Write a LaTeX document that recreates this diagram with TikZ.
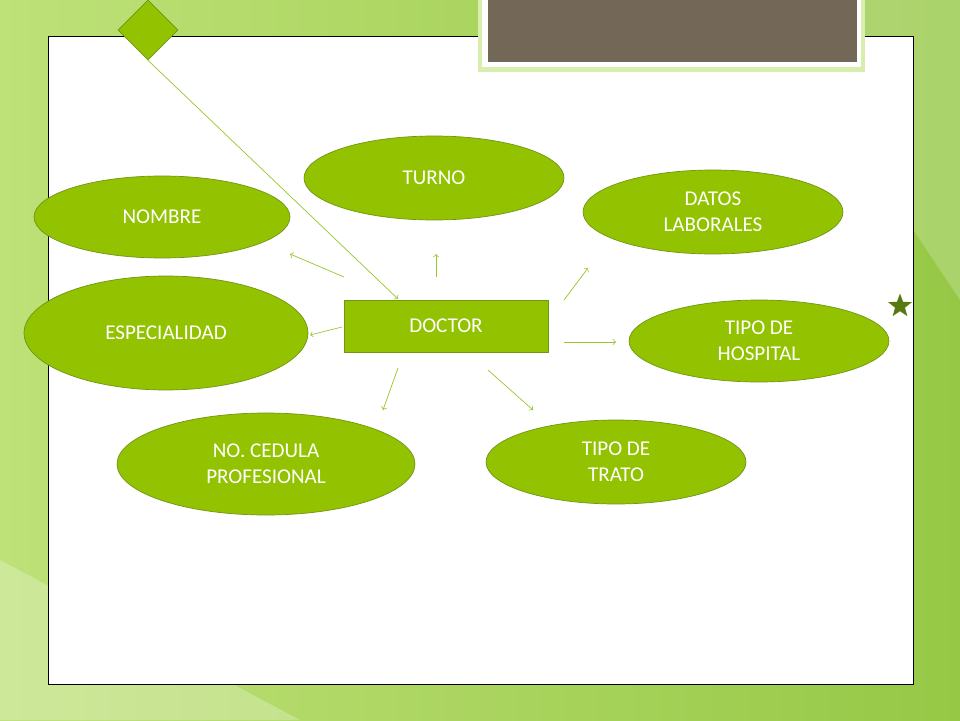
\documentclass[tikz,border=0pt]{standalone}
\usepackage{fontspec}
\setmainfont{Carlito}
\usetikzlibrary{shapes.geometric,shapes.misc}
\definecolor{bggreen}{RGB}{150,200,70}
\definecolor{bglight}{RGB}{190,225,120}
\definecolor{oval}{RGB}{146,194,0}
\definecolor{ovalline}{RGB}{112,150,20}
\definecolor{arr}{RGB}{150,200,40}
\definecolor{slate}{RGB}{115,103,88}
\tikzset{
  blob/.style={ellipse,fill=oval,draw=ovalline,thin,text=white,align=center,
    font=\fontsize{12}{15}\selectfont,inner sep=0pt},
  link/.style={draw=arr,->,thin}
}
\begin{document}
\begin{tikzpicture}[x=0.02cm,y=-0.02cm]
  \useasboundingbox (0,0) rectangle (960,720);
  % background
  \shade[left color=bglight,right color=bggreen] (0,0) rectangle (960,720);
  \fill[white,opacity=0.25] (0,720) -- (0,560) -- (300,720) -- cycle;
  \fill[white,opacity=0.2] (960,0) -- (960,300) -- (760,0) -- cycle;
  \fill[white] (48,36) rectangle (913,684);
  \draw[black,thin] (48,36) rectangle (913,684);
  % top box
  \fill[bglight!60!white] (478,0) rectangle (865,72);
  \fill[white] (482,0) rectangle (861,67);
  \fill[slate] (488,0) rectangle (857,62);
  % ovals
  \node[blob,minimum width=5.2cm,minimum height=1.68cm] (turno) at (434,178) {TURNO};
  \node[blob,minimum width=5.12cm,minimum height=1.64cm] (nombre) at (162,217) {NOMBRE};
  \node[blob,minimum width=5.2cm,minimum height=1.68cm] (datos) at (713,212) {DATOS\\LABORALES};
  \node[blob,minimum width=5.68cm,minimum height=2.28cm] (esp) at (166,333) {ESPECIALIDAD};
  \node[blob,minimum width=5.2cm,minimum height=1.64cm] (hosp) at (759,341) {TIPO DE\\HOSPITAL};
  \node[blob,minimum width=5.96cm,minimum height=2.04cm] (cedula) at (266,464) {NO. CEDULA\\PROFESIONAL};
  \node[blob,minimum width=5.2cm,minimum height=1.68cm] (trato) at (616,462) {TIPO DE\\TRATO};
  \node[rectangle,fill=oval,draw=ovalline,text=white,minimum width=4.08cm,minimum height=1.04cm,
    font=\fontsize{12}{15}\selectfont] (doctor) at (446,326) {DOCTOR};
  % diamond and star
  \node[diamond,fill=oval,draw=ovalline,minimum width=1.2cm,minimum height=1.2cm,inner sep=0pt] (rombo) at (148,30) {};
  \node[star,star points=5,star point ratio=2.4,fill=ovalline!80!black,minimum size=0.5cm,inner sep=0pt] (estrella) at (900,306) {};
  \draw[link] (rombo.south) -- (398,299);
  % arrows
  \coordinate (a1) at (344,277); \coordinate (b1) at (290,254);
  \coordinate (a2) at (436,277); \coordinate (b2) at (436,254);
  \coordinate (a3) at (564,300); \coordinate (b3) at (588,268);
  \coordinate (a4) at (342,327); \coordinate (b4) at (310,335);
  \coordinate (a5) at (564,342); \coordinate (b5) at (616,342);
  \coordinate (a6) at (398,368); \coordinate (b6) at (383,410);
  \coordinate (a7) at (488,370); \coordinate (b7) at (533,410);
  \foreach \i in {1,...,7}
    \draw[link] (a\i) -- (b\i);
\end{tikzpicture}
\end{document}
